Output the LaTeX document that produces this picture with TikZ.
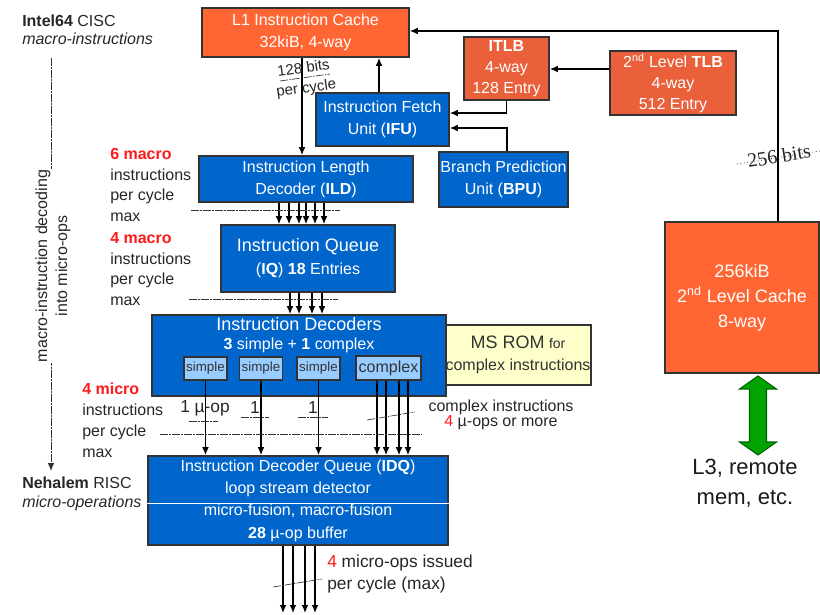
\documentclass[tikz,border=0pt]{standalone}
\usepackage{fontspec}
\setmainfont{Liberation Sans}
\newfontfamily\timesfont{Liberation Serif}
\usetikzlibrary{arrows.meta}

\definecolor{boxblue}{HTML}{0066CC}
\definecolor{cacheorange}{HTML}{FF6633}
\definecolor{tlborange}{HTML}{E9603A}
\definecolor{edgegray}{HTML}{333333}
\definecolor{unitblue}{HTML}{99CCFF}
\definecolor{romyellow}{HTML}{FFFFCC}
\definecolor{hotred}{HTML}{FF1A1A}
\definecolor{arrowgreen}{HTML}{00A300}

\tikzset{
  unit/.style={draw=edgegray, line width=1.3pt, inner sep=0pt, align=center, text=white},
  bluebox/.style={unit, fill=boxblue},
  cachebox/.style={unit, fill=cacheorange},
  tlbbox/.style={unit, fill=tlborange},
  decbox/.style={draw=edgegray, line width=0.8pt, fill=unitblue, inner sep=0pt, text=edgegray},
  flow/.style={line width=0.9pt, -{Latex[length=6pt,width=5pt]}},
  rate/.style={black!80, line width=0.5pt, dash pattern=on 6pt off 1pt on 1pt off 1pt},
  note/.style={align=left, anchor=west, text=black!85, inner sep=0pt},
  pt12/.style={font=\fontsize{12}{#1}\selectfont},
}

\begin{document}
\begin{tikzpicture}[x=0.75pt,y=-0.75pt]
\useasboundingbox (0,0) rectangle (820,614);
% Caches and TLBs
\node[cachebox, minimum width=155.25pt, minimum height=36.75pt, pt12=16.5pt] (l1) at (305.5,32.5) {L1 Instruction Cache\\32kiB, 4-way};
\node[tlbbox, minimum width=63.75pt, minimum height=47.25pt, pt12=15.75pt] (itlb) at (506.5,68.5) {\textbf{ITLB}\\4-way\\128 Entry};
\node[tlbbox, minimum width=94.5pt, minimum height=48pt, pt12=15.75pt] (tlb2) at (673,83) {2\textsuperscript{nd} Level \textbf{TLB}\\4-way\\512 Entry};
\node[cachebox, minimum width=115.5pt, minimum height=113.25pt, font=\fontsize{13.5}{18.75}\selectfont] (l2) at (742,297.5) {256kiB\\2\textsuperscript{nd} Level Cache\\8-way};
% Front end units
\node[bluebox, minimum width=99.75pt, minimum height=39.75pt, pt12=16.5pt] (ifu) at (382.5,119.5) {Instruction Fetch\\Unit (\textbf{IFU})};
\node[bluebox, minimum width=96.75pt, minimum height=41.25pt, pt12=16.5pt] (bpu) at (503.5,179.5) {Branch Prediction\\Unit (\textbf{BPU})};
\node[bluebox, minimum width=160.5pt, minimum height=34.5pt, pt12=16.5pt] (ild) at (306,179) {Instruction Length\\Decoder (\textbf{ILD})};
\node[bluebox, minimum width=130.5pt, minimum height=50.25pt, pt12=17.25pt] (iq) at (308,258.5) {{\fontsize{13.5}{17.25}\selectfont Instruction Queue}\\(\textbf{IQ}) \textbf{18} Entries};
% Decoders
\node[unit, fill=romyellow, text=edgegray, minimum width=109.5pt, minimum height=45pt, pt12=17pt] (msrom) at (518,355) {{\fontsize{13.5}{17}\selectfont MS ROM} {\fontsize{10.5}{17}\selectfont for}\\complex instructions};
\node[bluebox, minimum width=220.5pt, minimum height=60.75pt, label={[text=white, align=center, anchor=north, inner sep=2pt, pt12=14.25pt]north:{{\fontsize{13.5}{14.25}\selectfont Instruction Decoders}\\\textbf{3} simple + \textbf{1} complex}}] (id) at (299,355.5) {};
\foreach \n/\x in {1/205.5,2/261,3/318.5}
  \node[decbox, minimum width=32.25pt, minimum height=17.25pt, font=\fontsize{10}{10}\selectfont] (simple\n) at (\x,368.5) {simple};
\node[decbox, minimum width=48.75pt, minimum height=18pt, pt12=12pt] (complex) at (388.5,368) {complex};
\node[bluebox, minimum width=225pt, minimum height=66.75pt, pt12=16.75pt] (idq) at (298,500.5) {Instruction Decoder Queue (\textbf{IDQ})\\loop stream detector\\micro-fusion, macro-fusion\\\textbf{28} µ-op buffer};
\draw[white, line width=0.5pt] (142,503) -- (idq.east |- 0,503);

% Draw connectors
\draw[flow] (302,0 |- l1.south) -- (302,0 |- ild.north);
\draw[flow] (379,0 |- ifu.north) -- (379,0 |- l1.south);
\draw[flow] (tlb2.west |- 0,69) -- (itlb.east |- 0,69);
\draw[flow] (itlb.south) |- (ifu.east |- 0,113);
\draw[flow] (507,0 |- bpu.north) |- (ifu.east |- 0,128);
\draw[flow] (778,0 |- l2.north) |- (l1.east |- 0,31);
\foreach \x in {279,289,299,306,315,324}
  \draw[flow] (\x,0 |- ild.south) -- (\x,0 |- iq.north);
\foreach \x in {290,299,312,322}
  \draw[flow] (\x,0 |- iq.south) -- (\x,0 |- id.north);
\foreach \n in {1,2,3}
  \draw[flow] (simple\n.south) -- (simple\n.south |- idq.north);
\foreach \x in {377,386,399,408}
  \draw[flow] (\x,0 |- complex.south) -- (\x,0 |- idq.north);
\coordinate (exit) at (299,613);
\foreach \x in {283,293,305,315}
  \draw[flow] (\x,0 |- idq.south) -- (\x,0 |- exit);

% Draw L3 link
\draw[arrowgreen!60!black, fill=arrowgreen, line width=0.8pt] (758,376) -- (776.5,389) -- (766.5,389) -- (766.5,442) -- (776.5,442) -- (758,455)
  -- (739.5,442) -- (749.5,442) -- (749.5,389) -- (739.5,389) -- cycle;
\node[font=\fontsize{16.5}{22.5}\selectfont, align=center, text=black!90] (l3) at (745,483.5) {L3, remote\\mem, etc.};

% Draw rate lines
\draw[rate] (191,210) -- (340,210);
\draw[rate] (189,299) -- (338,299);
\draw[rate] (160,434) -- (422,434);
\draw[rate] (189,421) -- (218,421);
\draw[rate] (241,417) -- (269,417);
\draw[rate] (298,417) -- (328,417);
\draw[rate] (367,420) -- (415,412);
\draw[rate] (273,587) -- (322,579);
\draw[rate] (280,81) -- (330,74);
\draw[black!80, line width=0.6pt, dotted] (737,164) -- (820,151);
\node[rotate=8, align=center, inner sep=0pt, text=black!85, font=\fontsize{11.25}{15}\selectfont] (narrow) at (305,79) {128 bits\\per cycle};
\node[rotate=9, inner sep=0pt, text=black!85, font=\timesfont\fontsize{15}{15}\selectfont] (wide) at (779,156) {256 bits};

% Draw side notes
\coordinate (cisc) at (51,58);
\coordinate (risc) at (51,471);
\draw[rate, line width=0.7pt, -{Latex[length=6pt,width=5pt]}] (cisc) -- (risc);
\node[rotate=90, fill=white, align=center, inner sep=1pt, text=black!85, pt12=15pt] (decode) at (53,266) {macro-instruction decoding\\into micro-ops};
\node[note, pt12=13.5pt] (intel) at (22,30) {\textbf{Intel64} CISC\\\textit{macro-instructions}};
\node[note, pt12=14.25pt] (nehalem) at (22,494) {\textbf{Nehalem} RISC\\\textit{micro-operations}};
\node[note, pt12=15.5pt] (ildrate) at (110,185) {\textcolor{hotred}{\textbf{6 macro}}\\instructions\\per cycle\\max};
\node[note, pt12=15.5pt] (iqrate) at (110,269) {\textcolor{hotred}{\textbf{4 macro}}\\instructions\\per cycle\\max};
\node[note, pt12=15.75pt] (idrate) at (82,420) {\textcolor{hotred}{\textbf{4 micro}}\\instructions\\per cycle\\max};
\node[inner sep=0pt, text=black!85, font=\fontsize{13}{13}\selectfont] (uop1) at (205,408) {1 µ-op};
\node[inner sep=0pt, text=black!85, font=\fontsize{13}{13}\selectfont] (uop2) at (255,408) {1};
\node[inner sep=0pt, text=black!85, font=\fontsize{13}{13}\selectfont] (uop3) at (313,408) {1};
\node[align=center, inner sep=0pt, text=black!85, pt12=10.5pt] (cplx) at (501,415) {complex instructions\\\textcolor{hotred}{4} µ-ops or more};
\node[note, font=\fontsize{13}{16.5}\selectfont] (issue) at (327,574) {\textcolor{hotred}{4} micro-ops issued\\per cycle (max)};
\end{tikzpicture}
\end{document}
